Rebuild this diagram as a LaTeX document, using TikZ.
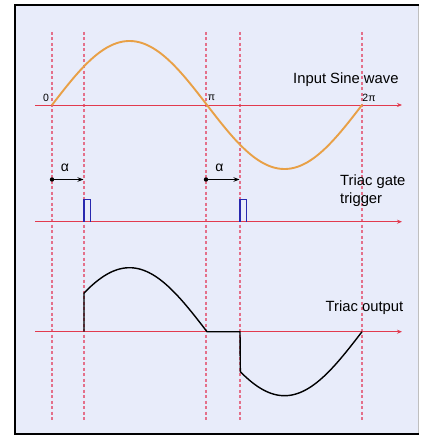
\documentclass[tikz,border=0pt]{standalone}
\usepackage{fontspec}
\setmainfont{Liberation Sans}
\usetikzlibrary{arrows.meta}
\definecolor{bgc}{RGB}{232,236,250}
\definecolor{axc}{RGB}{226,58,78}
\definecolor{dashc}{RGB}{228,112,138}
\definecolor{sinc}{RGB}{232,160,70}
\definecolor{pulc}{RGB}{40,40,175}
\begin{document}
\begin{tikzpicture}[x=1pt,y=-1pt,
  axis/.style={draw=axc,line width=0.9pt,-{Stealth[length=5pt,width=4pt]}},
  guide/.style={draw=dashc,line width=1.4pt,dash pattern=on 3pt off 2.5pt},
  lbl/.style={font=\fontsize{14.8}{17.7}\selectfont,inner sep=0pt,anchor=west,align=left},
  tick/.style={font=\fontsize{10.5}{12}\selectfont,inner sep=0pt},
  alab/.style={font=\fontsize{14}{16}\selectfont,inner sep=0pt}]
\useasboundingbox (0,0) rectangle (420,436);
% frame
\fill[bgc] (15,5) rectangle (419,434);
\draw[black!25,line width=0.6pt] (418.5,5) -- (418.5,434);
\draw[black,line width=2.2pt] (419,5) -- (15,5) -- (15,434) -- (419,434);
% guide lines
\foreach \gx in {52,84,206,240,362}
  \draw[guide] (\gx,32) -- (\gx,421);
% axes
\coordinate (a1s) at (35,105);    \coordinate (a1e) at (402,105);
\coordinate (a2s) at (35,221.7);  \coordinate (a2e) at (402,221.7);
\coordinate (a3s) at (35,331.7);  \coordinate (a3e) at (402,331.7);
\draw[axis] (a1s) -- (a1e);
\draw[axis] (a2s) -- (a2e);
\draw[axis] (a3s) -- (a3e);
% input sine
\draw[sinc,line width=1.9pt,line cap=round]
  plot[domain=0:360,samples=120,smooth] ({52+\x*0.86111},{105-64*sin(\x)});
% pulses
\draw[pulc,line width=1.6pt] (84,221.7) -- (84,199.5) -- (90.5,199.5) -- (90.5,221.7);
\draw[pulc,line width=1.6pt] (240,221.7) -- (240,199.5) -- (246.5,199.5) -- (246.5,221.7);
% triac output
\draw[black,line width=1.4pt,line join=round]
  (84,331.7) -- plot[domain=37.2:180,samples=60,smooth] ({52+\x*0.86111},{331.7-64*sin(\x)})
  -- (240,331.7) -- plot[domain=218.7:360,samples=60,smooth] ({52+\x*0.86111},{331.7-64*sin(\x)});
% alpha arrows
\coordinate (d1) at (52,179.5);  \coordinate (e1) at (83.5,179.5);
\coordinate (d2) at (206,179.5); \coordinate (e2) at (239.5,179.5);
\fill (d1) circle (2.2pt);
\fill (d2) circle (2.2pt);
\draw[line width=1.2pt,-{Stealth[length=6pt,width=4.5pt]}] (d1) -- (e1);
\draw[line width=1.2pt,-{Stealth[length=6pt,width=4.5pt]}] (d2) -- (e2);
\node[alab] (al1) at (65,168) {α};
\node[alab] (al2) at (219.5,168) {α};
% tick labels
\node[tick] (t0) at (46,98) {0};
\node[tick] (tpi) at (211.5,97.5) {π};
\node[tick] (t2pi) at (369,98) {2π};
% labels
\node[lbl] (lin) at (293,80) {Input Sine wave};
\node[lbl,anchor=north west] (lgate) at (340,175) {Triac gate\\trigger};
\node[lbl] (lout) at (325.5,307.7) {Triac output};
\end{tikzpicture}
\end{document}
